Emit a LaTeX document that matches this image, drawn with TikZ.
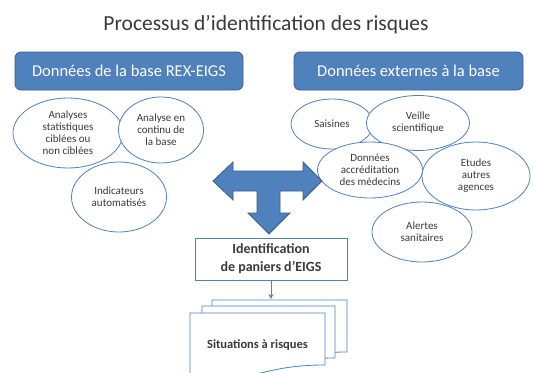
\documentclass[tikz,border=0pt]{standalone}
\usepackage{fontspec}
\setmainfont{Carlito}
\usetikzlibrary{shapes.geometric}
\usetikzlibrary{arrows.meta}

\begin{document}
\begin{tikzpicture}[
		x=1pt, y=-1pt,
		heading/.style={
			font=\fontsize{21.5}{24}\selectfont, text=inkcol
		},
		header/.style={
			rectangle, rounded corners=6pt, draw=edgecol, fill=blockcol,
			line width=0.8pt, minimum width=228pt, minimum height=38pt,
			font=\fontsize{16.5}{18}\selectfont, text=white
		},
		bubble/.style={
			ellipse, draw=blockcol, fill=white, line width=0.8pt, inner sep=0pt,
			font=\fontsize{11}{12}\selectfont, text=inkcol, align=center
		},
		panier/.style={
			rectangle, draw=blockcol, fill=white, line width=0.8pt,
			minimum width=152pt, minimum height=42pt, align=center,
			font=\bfseries\fontsize{14}{18}\selectfont, text=inkcol
		},
		page/.style={
			draw=blockcol, fill=white, line width=0.8pt
		},
		flow/.style={
			-{Stealth[length=5pt, width=5pt]}, draw=blockcol, line width=1pt
		}
		]
		
		\definecolor{blockcol}{HTML}{4F81BD}
		\definecolor{edgecol}{HTML}{385D8A}
		\definecolor{inkcol}{HTML}{3A3A3A}
		
		\clip (0,0) rectangle (534,372);
		
		\node[heading] (title) at (266,25) {Processus d’identification des risques};
		
		\node[header]                  (base)    at (129,  71) {Données de la base REX-EIGS};
		\node[header, minimum width=229pt] (externe) at (408.5,71) {Données externes à la base};
		
		% bulles de gauche
		\node[bubble, minimum width=110pt, minimum height=70pt] (stats)    at (68,  133) {Analyses\\statistiques\\ciblées ou\\non ciblées};
		\node[bubble, minimum width=85pt,  minimum height=66pt] (continu)  at (161, 130) {Analyse en\\continu de\\la base};
		\node[bubble, minimum width=95pt,  minimum height=70pt] (indic)    at (119, 197) {Indicateurs\\automatisés};
		
		% bulles de droite
		\node[bubble, minimum width=82pt,  minimum height=50pt] (saisines) at (332, 124) {Saisines};
		\node[bubble, minimum width=103pt, minimum height=55pt] (veille)   at (418, 123) {Veille\\scientifique};
		\node[bubble, minimum width=105pt, minimum height=56pt] (accred)   at (370, 170) {Données\\accréditation\\des médecins};
		\node[bubble, minimum width=108pt, minimum height=68pt] (etudes)   at (476, 176) {Etudes\\autres\\agences};
		\node[bubble, minimum width=100pt, minimum height=60pt] (alertes)  at (422, 232) {Alertes\\sanitaires};
		
		% fleche en T
		\draw[fill=blockcol, draw=edgecol, line width=0.8pt]
			(213,181) -- (233,162) -- (233,171) -- (303,171) -- (303,162) -- (322,181)
			-- (303,200) -- (303,191) -- (280,191) -- (280,213) -- (290,213) -- (269,234)
			-- (248,213) -- (257,213) -- (257,191) -- (233,191) -- (233,200) -- cycle;
		
		\node[panier] (ident) at (271,259) {Identification\\de paniers d’EIGS};
		
		% pile de documents
		\draw[page, shift={(212,300)}] (0,0) -- (135,0) -- (135,52) .. controls (67.5,52) and (67.5,72) .. (0,61) -- cycle;
		\draw[page, shift={(202,306)}] (0,0) -- (133,0) -- (133,52) .. controls (66.5,52) and (66.5,72) .. (0,61) -- cycle;
		\draw[page, shift={(190,313)}] (0,0) -- (135,0) -- (135,52) .. controls (67.5,52) and (67.5,72) .. (0,61) -- cycle;
		\node[font=\bfseries\fontsize{12.5}{14}\selectfont, text=inkcol] (situations) at (257.5,345) {Situations à risques};
		
		\coordinate (pile) at (271,299);
		\draw[flow] (ident) -- (pile);
		
	\end{tikzpicture}
\end{document}
